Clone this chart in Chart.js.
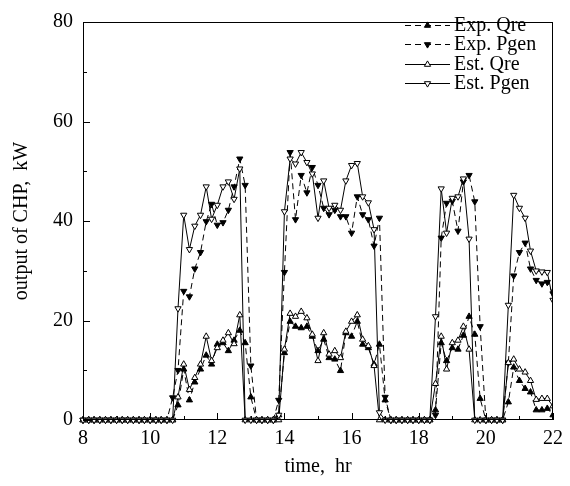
<!DOCTYPE html>
<html>
<head>
<meta charset="utf-8">
<script src="https://cdn.jsdelivr.net/npm/chart.js@4"></script>
<style>
  html, body { margin: 0; padding: 0; background: #fff; }
  #wrap { width: 570px; height: 486px; }
</style>
</head>
<body>
<div id="wrap"><canvas id="chp" width="570" height="486"></canvas></div>
<script>
// time of day, hr (10 min samples)
var times = [
  8.00, 8.17, 8.33, 8.50, 8.67, 8.83,
  9.00, 9.17, 9.33, 9.50, 9.67, 9.83,
  10.00, 10.17, 10.33, 10.50, 10.67, 10.83,
  11.00, 11.17, 11.33, 11.50, 11.67, 11.83,
  12.00, 12.17, 12.33, 12.50, 12.67, 12.83,
  13.00, 13.17, 13.33, 13.50, 13.67, 13.83,
  14.00, 14.17, 14.33, 14.50, 14.67, 14.83,
  15.00, 15.17, 15.33, 15.50, 15.67, 15.83,
  16.00, 16.17, 16.33, 16.50, 16.67, 16.83,
  17.00, 17.17, 17.33, 17.50, 17.67, 17.83,
  18.00, 18.17, 18.33, 18.50, 18.67, 18.83,
  19.00, 19.17, 19.33, 19.50, 19.67, 19.83,
  20.00, 20.17, 20.33, 20.50, 20.67, 20.83,
  21.00, 21.17, 21.33, 21.50, 21.67, 21.83,
  22.00
];

// output, kW
var expQre = [
  0, 0, 0, 0, 0, 0,
  0, 0, 0, 0, 0, 0,
  0, 0, 0, 0, 0, 3.0,
  10.2, 4.0, 7.6, 10.2, 13.0, 11.2,
  15.2, 15.5, 13.9, 16.0, 18.0, 15.5,
  4.6, 0, 0, 0, 0, 1.0,
  13.5, 19.8, 18.8, 18.5, 18.8, 16.8,
  13.9, 16.2, 12.5, 12.2, 9.9, 17.5,
  16.8, 19.8, 15.2, 14.5, 11.2, 15.2,
  4.0, 0, 0, 0, 0, 0,
  0, 0, 0, 2.0, 15.5, 11.9,
  14.5, 14.2, 17.0, 20.8, 17.2, 4.3,
  0, 0, 0, 0, 3.6, 10.6,
  7.9, 6.3, 5.6, 2.0, 2.0, 2.3,
  1.0
];
var expPgen = [
  0, 0, 0, 0, 0, 0,
  0, 0, 0, 0, 0, 0,
  0, 0, 0, 0, 4.5, 10.0,
  25.9, 24.8, 30.4, 33.7, 39.9, 43.4,
  39.2, 39.7, 42.2, 46.9, 52.5, 47.2,
  10.9, 0, 0, 0, 0, 4.0,
  29.7, 53.8, 40.3, 49.2, 45.7, 50.8,
  47.2, 42.6, 41.3, 42.2, 40.9, 40.9,
  37.6, 44.9, 41.3, 40.3, 35.0, 40.6,
  4.6, 0, 0, 0, 0, 0,
  0, 0, 0, 1.0, 36.6, 43.6,
  44.0, 38.0, 47.9, 49.2, 43.9, 18.8,
  0, 0, 0, 0, 11.5, 29.0,
  33.7, 35.6, 30.4, 28.1, 27.4, 27.7,
  25.4
];
var estQre = [
  0, 0, 0, 0, 0, 0,
  0, 0, 0, 0, 0, 0,
  0, 0, 0, 0, 0, 4.6,
  11.2, 6.1, 8.5, 11.2, 16.8, 11.9,
  14.5, 16.0, 17.5, 15.3, 21.1, 0,
  0, 0, 0, 0, 0, 0,
  14.2, 21.4, 20.8, 21.8, 20.5, 17.2,
  11.9, 17.5, 13.2, 13.9, 12.5, 17.8,
  19.8, 21.1, 16.2, 14.9, 10.9, 0,
  0, 0, 0, 0, 0, 0,
  0, 0, 0, 7.3, 16.8, 10.2,
  15.5, 16.0, 18.8, 14.2, 0, 0,
  0, 0, 0, 0, 11.5, 12.2,
  10.2, 9.6, 7.9, 4.1, 4.3, 4.3,
  2.8
];
var estPgen = [
  0, 0, 0, 0, 0, 0,
  0, 0, 0, 0, 0, 0,
  0, 0, 0, 0, 0, 22.4,
  41.2, 34.3, 39.0, 41.2, 46.9, 40.4,
  43.2, 46.9, 47.9, 44.4, 50.5, 0,
  0, 0, 0, 0, 0, 1.0,
  41.9, 52.5, 51.5, 53.8, 51.8, 49.5,
  40.6, 48.1, 42.6, 43.2, 42.2, 48.1,
  51.2, 51.6, 44.9, 43.7, 38.3, 1.5,
  0, 0, 0, 0, 0, 0,
  0, 0, 0, 20.8, 46.5, 37.6,
  44.6, 44.9, 48.5, 36.4, 0, 0,
  0, 0, 0, 0, 23.1, 45.2,
  42.6, 40.6, 34.0, 30.0, 29.8, 29.7,
  24.1
];

var seriesNames = ['Exp. Qre', 'Exp. Pgen', 'Est. Qre', 'Est. Pgen'];
var xTicks = [8, 10, 12, 14, 16, 18, 20, 22];
var yTicks = [0, 20, 40, 60, 80];

var serif = 'Liberation Serif';

function pts(vals) {
  return vals.map(function (v, i) { return { x: times[i], y: v }; });
}

function series(label, vals, filled, down, dashed, order) {
  return {
    label: label,
    data: pts(vals),
    order: order,
    borderColor: '#000',
    borderWidth: 1,
    borderDash: dashed ? [6, 4] : [],
    backgroundColor: filled ? '#000' : '#fff',
    pointStyle: 'triangle',
    pointRotation: down ? 180 : 0,
    pointRadius: 3.6,
    pointBorderWidth: 1,
    pointBorderColor: '#000',
    pointBackgroundColor: filled ? '#000' : '#fff',
    tension: 0,
    clip: { left: 6, top: 6, right: 0, bottom: 6 }
  };
}

// box round the plot, inward ticks
var frame = {
  id: 'frame',
  afterDraw: function (chart) {
    var ctx = chart.ctx, a = chart.chartArea;
    var xs = chart.scales.x, ys = chart.scales.y;
    ctx.save();
    ctx.strokeStyle = '#000';
    ctx.lineWidth = 1;
    ctx.strokeRect(Math.round(a.left) + 0.5, Math.round(a.top) + 0.5,
      Math.round(a.right - a.left) - 1, Math.round(a.bottom - a.top) - 1);
    ctx.beginPath();
    for (var h = 8; h <= 22; h++) {
      var px = Math.round(xs.getPixelForValue(h)) + 0.5;
      var len = (h % 2 === 0) ? 7 : 4;
      ctx.moveTo(px, a.bottom);
      ctx.lineTo(px, a.bottom - len);
    }
    for (var v = 0; v <= 80; v += 10) {
      var py = Math.round(ys.getPixelForValue(v)) + 0.5;
      var l2 = (v % 20 === 0) ? 7 : 4;
      ctx.moveTo(a.left, py);
      ctx.lineTo(a.left + l2, py);
    }
    ctx.stroke();
    ctx.restore();
  }
};

// legend: line + marker + text, top right in the plot
var lineLegend = {
  id: 'lineLegend',
  afterDraw: function (chart) {
    var ctx = chart.ctx;
    var x1 = 405, x2 = 450, tx = 454, y0 = 25, step = 19.3;
    ctx.save();
    chart.data.datasets.forEach(function (ds, i) {
      var y = Math.round(y0 + i * step);
      ctx.strokeStyle = '#000';
      ctx.lineWidth = 1;
      ctx.setLineDash(ds.borderDash);
      ctx.beginPath();
      ctx.moveTo(x1, y + 0.5);
      ctx.lineTo(x2, y + 0.5);
      ctx.stroke();
      ctx.setLineDash([]);
      ctx.fillStyle = ds.pointBackgroundColor;
      Chart.helpers.drawPoint(ctx, {
        pointStyle: 'triangle',
        rotation: ds.pointRotation,
        radius: ds.pointRadius,
        borderWidth: 1
      }, (x1 + x2) / 2, y + 0.5);
      ctx.fillStyle = '#000';
      ctx.font = '20px "' + serif + '"';
      ctx.textAlign = 'left';
      ctx.textBaseline = 'middle';
      ctx.fillText(ds.label, tx, y + 1);
    });
    ctx.restore();
  }
};

var ctx = document.getElementById('chp').getContext('2d');
var chpChart = new Chart(ctx, {
  type: 'line',
  data: {
    datasets: [
      series(seriesNames[0], expQre, true, false, true, 3),
      series(seriesNames[1], expPgen, true, true, true, 2),
      series(seriesNames[2], estQre, false, false, false, 1),
      series(seriesNames[3], estPgen, false, true, false, 0)
    ]
  },
  options: {
    responsive: false,
    animation: false,
    devicePixelRatio: 1,
    layout: { padding: { left: 0, top: 16, right: 13, bottom: 0 } },
    plugins: {
      legend: { display: false },
      tooltip: { enabled: false }
    },
    scales: {
      x: {
        type: 'linear',
        min: 8,
        max: 22,
        afterFit: function (s) { s.height = 66; },
        afterBuildTicks: function (s) {
          s.ticks = xTicks.map(function (v) { return { value: v }; });
        },
        ticks: {
          color: '#000',
          padding: 7,
          maxRotation: 0,
          font: { family: serif, size: 20 }
        },
        grid: { display: false, drawTicks: false },
        border: { display: false },
        title: {
          display: true,
          text: 'time,  hr',
          color: '#000',
          font: { family: serif, size: 20 },
          padding: { top: 0, bottom: 7 }
        }
      },
      y: {
        min: 0,
        max: 80,
        afterFit: function (s) { s.width = 83; },
        afterBuildTicks: function (s) {
          s.ticks = yTicks.map(function (v) { return { value: v }; });
        },
        ticks: {
          color: '#000',
          padding: 10,
          font: { family: serif, size: 20 }
        },
        grid: { display: false, drawTicks: false },
        border: { display: false },
        title: {
          display: true,
          text: 'output of CHP,  kW',
          color: '#000',
          font: { family: serif, size: 20 },
          padding: { top: 10, bottom: 0 }
        }
      }
    }
  },
  plugins: [frame, lineLegend]
});
</script>
</body>
</html>
